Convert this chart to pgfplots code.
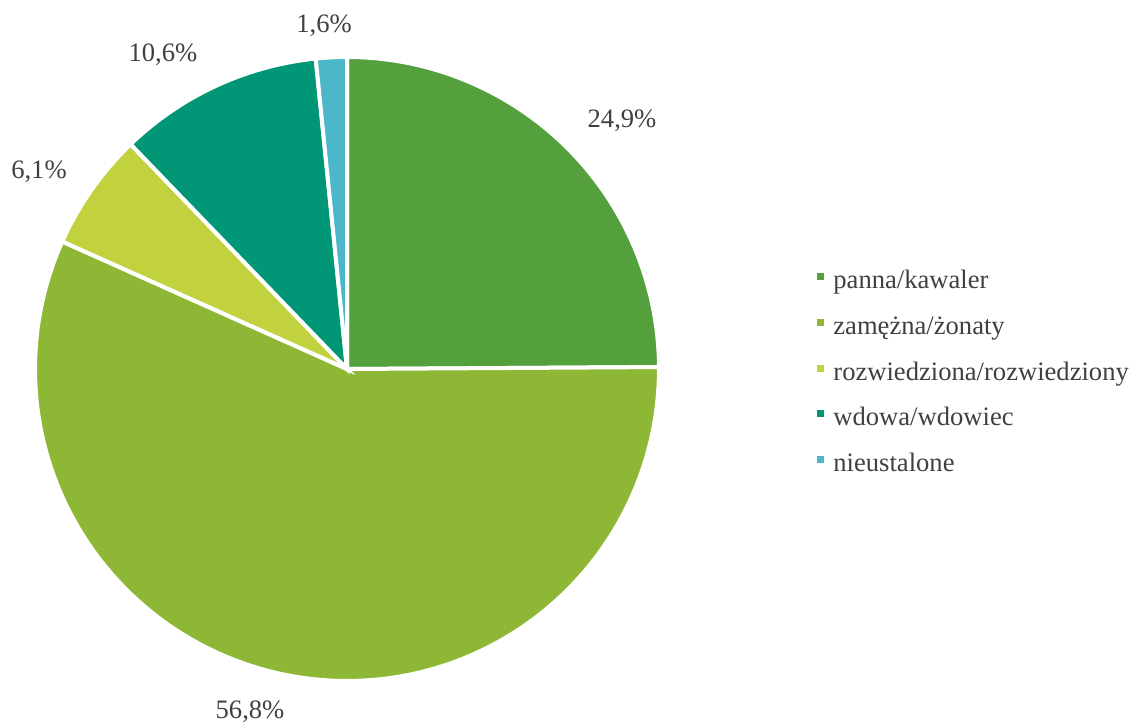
\documentclass[border=0pt]{standalone}
\usepackage{pgfplots}
\pgfplotsset{compat=1.18}
\usepackage{pgfplotstable}
\usepackage{fontspec}
\setmainfont{Liberation Serif}
\definecolor{cA}{HTML}{54A03C}
\definecolor{cB}{HTML}{8DB734}
\definecolor{cC}{HTML}{C2D23E}
\definecolor{cD}{HTML}{009676}
\definecolor{cE}{HTML}{4BB7C8}
\definecolor{txt}{HTML}{404040}
\pgfplotstableread{
status value
panna 24.9
zamezna 56.8
rozwiedziona 6.1
wdowa 10.6
nieustalone 1.6
}\data
% cumulative angles (start at 90 deg, clockwise)
\pgfplotstablegetelem{0}{value}\of\data \let\vA\pgfplotsretval
\pgfplotstablegetelem{1}{value}\of\data \let\vB\pgfplotsretval
\pgfplotstablegetelem{2}{value}\of\data \let\vC\pgfplotsretval
\pgfplotstablegetelem{3}{value}\of\data \let\vD\pgfplotsretval
\pgfplotstablegetelem{4}{value}\of\data \let\vE\pgfplotsretval
\pgfmathsetmacro{\aO}{90}
\pgfmathsetmacro{\aA}{\aO-3.6*\vA}
\pgfmathsetmacro{\aB}{\aA-3.6*\vB}
\pgfmathsetmacro{\aC}{\aB-3.6*\vC}
\pgfmathsetmacro{\aD}{\aC-3.6*\vD}
\pgfmathsetmacro{\aE}{\aD-3.6*\vE}
\begin{document}%
\begin{tikzpicture}
\begin{axis}[
  scale only axis, width=566.5pt, height=361pt,
  xmin=0, xmax=1133, ymin=0, ymax=722,
  hide axis, clip=false,
  every axis plot/.append style={draw=white, line width=2pt, samples=120},
  legend style={at={(axis cs:817,722-270)}, anchor=north west, draw=none, fill=none,
    font=\fontsize{13.3}{16}\selectfont, text=txt, row sep=10.9pt, inner sep=0pt,
    column sep=0pt,
    nodes={inner sep=0pt, text height=9pt, text depth=3pt}},
  legend cell align=left,
  legend image code/.code={\fill[#1,draw=none] (0pt,1.2pt) rectangle (3.5pt,4.7pt);},
]
\addplot[fill=cA, domain=\aA:\aO] ({347+312*cos(x)},{353+312*sin(x)}) -- (axis cs:347,353) -- cycle;
\addlegendentry{\hspace{4.5pt}panna/kawaler}
\addplot[fill=cB, domain=\aB:\aA] ({347+312*cos(x)},{353+312*sin(x)}) -- (axis cs:347,353) -- cycle;
\addlegendentry{\hspace{4.5pt}zamężna/żonaty}
\addplot[fill=cC, domain=\aC:\aB] ({347+312*cos(x)},{353+312*sin(x)}) -- (axis cs:347,353) -- cycle;
\addlegendentry{\hspace{4.5pt}rozwiedziona/rozwiedziony}
\addplot[fill=cD, domain=\aD:\aC] ({347+312*cos(x)},{353+312*sin(x)}) -- (axis cs:347,353) -- cycle;
\addlegendentry{\hspace{4.5pt}wdowa/wdowiec}
\addplot[fill=cE, domain=\aE:\aD] ({347+312*cos(x)},{353+312*sin(x)}) -- (axis cs:347,353) -- cycle;
\addlegendentry{\hspace{4.5pt}nieustalone}
\begin{scope}[every node/.style={font=\fontsize{13.3}{16}\selectfont, text=txt, anchor=base, inner sep=0pt}]
\node at (axis cs:622,594) {24,9\%};
\node at (axis cs:250,4) {56,8\%};
\node at (axis cs:39,544) {6,1\%};
\node at (axis cs:163,660) {10,6\%};
\node at (axis cs:324,689) {1,6\%};
\end{scope}
\path (axis cs:0,0) rectangle (axis cs:1133,722);
\end{axis}
\end{tikzpicture}%
\end{document}
